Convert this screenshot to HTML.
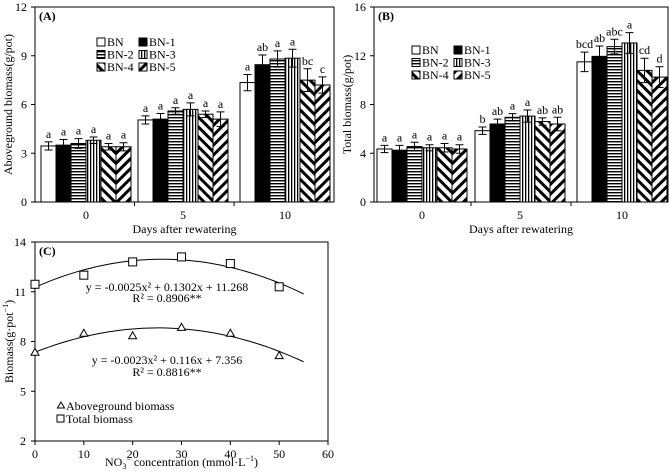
<!DOCTYPE html>
<html><head><meta charset="utf-8"><style>
body{margin:0;background:#fff;}
svg{display:block;font-family:"Liberation Serif","Times New Roman",serif;}
</style></head><body>
<svg id="s" width="669" height="472" viewBox="0 0 669 472">
<defs>
<pattern id="pH" width="4" height="3" patternUnits="userSpaceOnUse"><rect width="4" height="3" fill="#fff"/><rect y="0" width="4" height="1.4" fill="#000"/></pattern>
<pattern id="pV" width="3" height="4" patternUnits="userSpaceOnUse"><rect width="3" height="4" fill="#fff"/><rect x="0" width="1.3" height="4" fill="#000"/></pattern>
<pattern id="pB" width="7" height="7" patternUnits="userSpaceOnUse" patternTransform="rotate(-45)"><rect width="7" height="7" fill="#fff"/><rect width="3" height="7" fill="#000"/></pattern>
<pattern id="pF" width="7" height="7" patternUnits="userSpaceOnUse" patternTransform="rotate(45)"><rect width="7" height="7" fill="#fff"/><rect width="3" height="7" fill="#000"/></pattern>
</defs>
</svg>
<script>
const series=['BN','BN-1','BN-2','BN-3','BN-4','BN-5'];
const fills=['#fff','#000','url(#pH)','url(#pV)','url(#pB)','url(#pF)'];
const days=['0','5','10'];
const aVals=[[3.45,3.5,3.6,3.8,3.4,3.4],[5.05,5.1,5.6,5.7,5.4,5.1],[7.35,8.45,8.8,8.85,7.5,7.2]];
const aErr=[[0.25,0.35,0.3,0.2,0.2,0.25],[0.25,0.35,0.2,0.4,0.2,0.45],[0.5,0.6,0.5,0.55,0.7,0.5]];
const aLet=[['a','a','a','a','a','a'],['a','a','a','a','a','a'],['a','ab','a','a','bc','c']];
const aTicks=[0,3,6,9,12];
const bVals=[[4.35,4.25,4.55,4.45,4.45,4.35],[5.85,6.4,6.95,7.05,6.6,6.4],[11.5,11.95,12.75,13.05,10.8,10.25]];
const bErr=[[0.3,0.4,0.35,0.25,0.35,0.35],[0.3,0.4,0.3,0.5,0.3,0.55],[0.8,0.85,0.6,0.85,1.0,0.85]];
const bLet=[['a','a','a','a','a','a'],['b','ab','a','a','ab','ab'],['bcd','ab','abc','a','cd','d']];
const bTicks=[0,4,8,12,16];
const cX=[0,10,20,30,40,50];
const cTotal=[11.45,12.0,12.8,13.1,12.7,11.3];
const cAbove=[7.35,8.5,8.35,8.85,8.5,7.15];
const cYTicks=[2,5,8,11,14];
const cXTicks=[0,10,20,30,40,50,60];
const fitTotal=[-0.0025,0.1302,11.268];
const fitAbove=[-0.0023,0.116,7.356];

const S=document.getElementById('s');const NS='http://www.w3.org/2000/svg';
function el(t,a,p){const e=document.createElementNS(NS,t);for(const k in a)e.setAttribute(k,a[k]);(p||S).appendChild(e);return e;}
function txt(s,a,p){const e=el('text',a,p);e.textContent=s;return e;}

function barChart(o){
  const g=el('g',{});
  
  
  const y=v=>o.y0-(v-o.ymin)/(o.ymax-o.ymin)*(o.y0-o.y1);
  const bw=15;
  o.vals.forEach((grp,gi)=>{
    const cx=o.centers[gi];
    grp.forEach((v,si)=>{
      const x=cx-45+si*bw;
      const r=el('rect',{x:x,y:y(v),width:bw,height:o.y0-y(v),fill:fills[si],stroke:'#000','stroke-width':1},g);
      
      
      const e=o.err[gi][si],xm=x+bw/2;
      el('path',{d:`M${xm} ${y(v+e)}V${y(v-e)}M${xm-4} ${y(v+e)}h8M${xm-4} ${y(v-e)}h8`,stroke:'#000','stroke-width':1,fill:'none'},g);
      const t=txt(o.lets[gi][si],{x:xm,y:y(v+e)-4,'font-size':12,'text-anchor':'middle'},g);
      
      
    });
    const l=txt(days[gi],{x:cx,y:o.y0+17,'font-size':12,'text-anchor':'middle'},g);
    
    
  });
  el('rect',{x:o.x0,y:o.y1,width:o.x1-o.x0,height:o.y0-o.y1,fill:'none',stroke:'#000','stroke-width':1},g);
  o.ticks.forEach(t=>{
    el('line',{x1:o.x0-4,x2:o.x0,y1:y(t),y2:y(t),stroke:'#000'},g);
    const l=txt(String(t),{x:o.x0-8,y:y(t)+4,'font-size':12,'text-anchor':'end'},g);
    
    
  });
  [1,2].forEach(i=>{const xx=(o.centers[i-1]+o.centers[i])/2;el('line',{x1:xx,x2:xx,y1:o.y0,y2:o.y0+4,stroke:'#000'},g);});
  const xt=txt('Days after rewatering',{x:(o.x0+o.x1)/2,y:o.y0+31,'font-size':12,'text-anchor':'middle'},g);
  
  const yt=txt(o.ytitle,{x:0,y:0,'font-size':12,'text-anchor':'middle',transform:`translate(${o.x0-23},${(o.y0+o.y1)/2}) rotate(-90)`},g);
  
  const pl=txt(o.label,{x:o.x0+4,y:o.y1+13,'font-size':12,'font-weight':'bold'},g);
  
  series.forEach((s,i)=>{
    const lx=o.lx+(i%2)*42,ly=o.ly+Math.floor(i/2)*12.5;
    const le=el('g',{},g);
    
    
    el('rect',{x:lx,y:ly-8,width:8,height:8,fill:fills[i],stroke:'#000'},le);
    txt(s,{x:lx+10,y:ly,'font-size':12},le);
  });
}
barChart({name:'panel-a-aboveground',x0:35,x1:334,y0:202,y1:7,ymin:0,ymax:12,vals:aVals,err:aErr,lets:aLet,ticks:aTicks,centers:[86,183,285],ytitle:'Aboveground biomass(g/pot)',label:'(A)',lx:97,ly:46});
barChart({name:'panel-b-total',x0:374,x1:668,y0:202,y1:7,ymin:0,ymax:16,vals:bVals,err:bErr,lets:bLet,ticks:bTicks,centers:[422,520,622],ytitle:'Total biomass(g/pot)',label:'(B)',lx:412,ly:54});

// Panel C
const cg=el('g',{});


const cx0=35,cx1=328,cy0=441,cy1=242;
const X=v=>cx0+v/60*(cx1-cx0), Y=v=>cy0-(v-2)/12*(cy0-cy1);
el('rect',{x:cx0,y:cy1,width:cx1-cx0,height:cy0-cy1,fill:'none',stroke:'#000'},cg);
cYTicks.forEach(t=>{el('line',{x1:cx0-4,x2:cx0,y1:Y(t),y2:Y(t),stroke:'#000'},cg);
  const l=txt(String(t),{x:cx0-9,y:Y(t)+4,'font-size':12,'text-anchor':'end'},cg);
  });
cXTicks.forEach(t=>{el('line',{x1:X(t),x2:X(t),y1:cy0,y2:cy0+4,stroke:'#000'},cg);
  const l=txt(String(t),{x:X(t),y:cy0+17,'font-size':12,'text-anchor':'middle'},cg);
  });
function fit(c){let d='';for(let x=0;x<=55;x+=1){const v=c[0]*x*x+c[1]*x+c[2];d+=(x?'L':'M')+X(x).toFixed(1)+' '+Y(v).toFixed(1);}return d;}
const f1=el('path',{d:fit(fitTotal),fill:'none',stroke:'#000','stroke-width':1},cg);

const f2=el('path',{d:fit(fitAbove),fill:'none',stroke:'#000','stroke-width':1},cg);

cX.forEach((x,i)=>{
  const s=el('rect',{x:X(x)-4,y:Y(cTotal[i])-4,width:8,height:8,fill:'#fff',stroke:'#000'},cg);
  
  const px=X(x),py=Y(cAbove[i]);
  const t=el('path',{d:`M${px} ${py-4}L${px+4} ${py+3}L${px-4} ${py+3}Z`,fill:'#fff',stroke:'#000'},cg);
  
});
const eqs=[['y = -0.0025x² + 0.1302x + 11.268',291,'equation-total'],['R² = 0.8906**',302,'r2-total'],['y = -0.0023x² + 0.116x + 7.356',364,'equation-aboveground'],['R² = 0.8816**',376,'r2-aboveground']];
eqs.forEach(e=>{const t=txt(e[0],{x:167,y:e[1],'font-size':12,'text-anchor':'middle'},cg);
  });
const pc=txt('(C)',{x:cx0+4,y:cy1+13,'font-size':12,'font-weight':'bold'},cg);

const l1=el('g',{},cg);
el('path',{d:'M61 402L64.5 408L57.5 408Z',fill:'#fff',stroke:'#000'},l1);
txt('Aboveground biomass',{x:66,y:410,'font-size':12},l1);
const l2=el('g',{},cg);
el('rect',{x:57,y:415,width:7,height:7,fill:'#fff',stroke:'#000'},l2);
txt('Total biomass',{x:66,y:423,'font-size':12},l2);
const cxt=txt('',{x:(cx0+cx1)/2,y:466,'font-size':12,'text-anchor':'middle'},cg);
cxt.innerHTML='NO<tspan font-size="8" dy="3">3</tspan><tspan font-size="8" dy="-7">−</tspan><tspan dy="4"> concentration (mmol·L</tspan><tspan font-size="8" dy="-5">−1</tspan><tspan dy="5">)</tspan>';

const cyt=txt('',{x:0,y:0,'font-size':12,'text-anchor':'middle',transform:`translate(13,${(cy0+cy1)/2}) rotate(-90)`},cg);
cyt.innerHTML='Biomass(g·pot<tspan font-size="8" dy="-5">−1</tspan><tspan dy="5">)</tspan>';

</script>
</body></html>
